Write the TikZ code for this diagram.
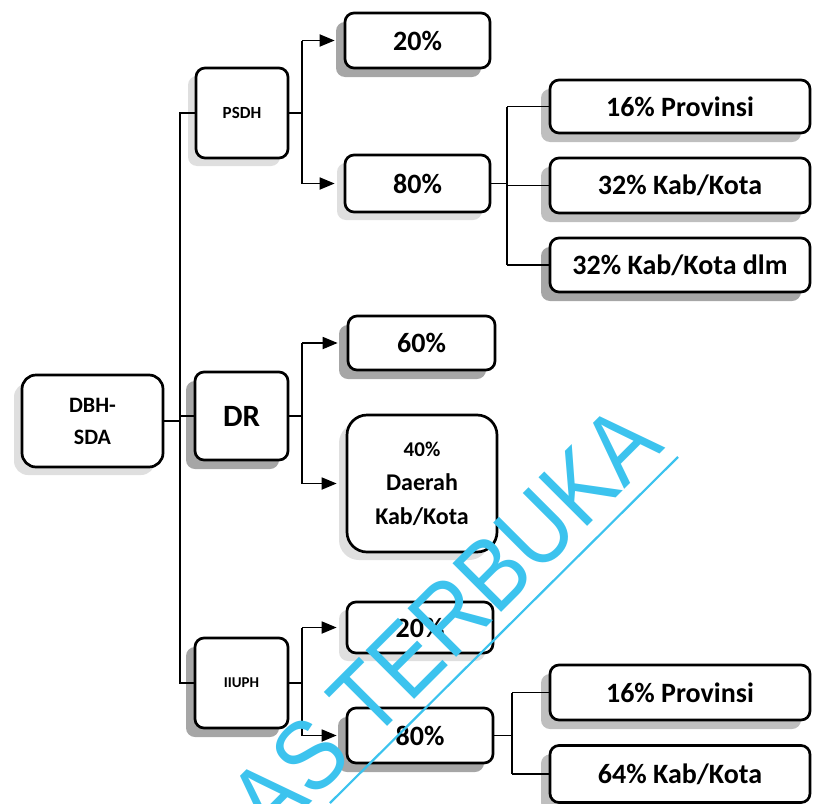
\documentclass[tikz,border=0pt]{standalone}
\usepackage{fontspec}
\usepackage{graphicx}
\setmainfont{Carlito}
\newfontfamily\wmfont{Liberation Sans}
\usetikzlibrary{arrows.meta,shadows}
\definecolor{wmblue}{HTML}{3CC3EE}
\tikzset{
  box/.style={draw=black, line width=2.7pt, fill=white, rounded corners=9pt,
    inner sep=0pt, align=center, text=black,
    font=\bfseries\fontsize{28}{34}\selectfont},
  darksh/.style={general shadow={shadow xshift=-9pt, shadow yshift=-9pt, fill=gray!70}},
  midsh/.style={general shadow={shadow xshift=-9pt, shadow yshift=-9pt, fill=gray!50}},
  lightsh/.style={general shadow={shadow xshift=-8pt, shadow yshift=-8pt, fill=gray!25}},
  link/.style={draw=black, line width=1.8pt},
  arrowlink/.style={link, -{Triangle[length=15pt,width=12pt]}, shorten >=9pt},
}
\begin{document}
\begin{tikzpicture}[x=1pt, y=-1pt]
\useasboundingbox (0,0) rectangle (813,803);

% root and first level
\node[box, lightsh, rounded corners=14pt, minimum width=141pt, minimum height=92pt,
  font=\bfseries\fontsize{22}{32}\selectfont] (dbh) at (92.5,421) {DBH-\\SDA};
\node[box, lightsh, minimum width=92pt, minimum height=90pt,
  font=\bfseries\fontsize{17}{20}\selectfont] (psdh) at (242,113) {PSDH};
\node[box, darksh, minimum width=93pt, minimum height=88pt,
  font=\bfseries\fontsize{31}{34}\selectfont] (dr) at (241.5,416) {DR};
\node[box, darksh, minimum width=93pt, minimum height=90pt,
  font=\bfseries\fontsize{15}{18}\selectfont] (iiuph) at (241.5,683) {IIUPH};

% second level
\node[box, darksh, minimum width=145pt, minimum height=55pt] (p20) at (417.5,40.5) {20\%};
\node[box, lightsh, minimum width=145pt, minimum height=57pt] (p80) at (417.5,183.5) {80\%};
\node[box, darksh, minimum width=147pt, minimum height=54pt] (d60) at (421.5,343) {60\%};
\node[box, lightsh, rounded corners=20pt, minimum width=150pt, minimum height=137pt,
  font=\bfseries\fontsize{24}{34}\selectfont] (d40) at (422,483.5)
  {{\fontsize{21}{34}\selectfont 40\%}\\Daerah\\Kab/Kota};
\node[box, lightsh, minimum width=146pt, minimum height=51pt] (i20) at (420,627.5) {20\%};
\node[box, darksh, minimum width=146pt, minimum height=55pt] (i80) at (420,735.5) {80\%};

% third level
\node[box, midsh, minimum width=260pt, minimum height=53pt] (pprov) at (680,106.5) {16\% Provinsi};
\node[box, midsh, minimum width=260pt, minimum height=55pt] (pkab) at (680,185.5) {32\% Kab/Kota};
\node[box, darksh, minimum width=260pt, minimum height=54pt] (pdlm) at (680,265) {32\% Kab/Kota dlm};
\node[box, midsh, minimum width=260pt, minimum height=55pt] (iprov) at (680,692.5) {16\% Provinsi};
\node[box, midsh, minimum width=260pt, minimum height=57pt] (ikab) at (680,774) {64\% Kab/Kota};

% branch columns
\coordinate (tr) at (180,0);
\coordinate (b1) at (302,0);
\coordinate (b2) at (507,0);
\coordinate (b3) at (302,0);
\coordinate (b4) at (302,0);
\coordinate (b5) at (512,0);

% trunk
\draw[link] (dbh.east) -- (dbh.east -| tr);
\draw[link] (psdh.west) -- (psdh.west -| tr) -- (iiuph.west -| tr) -- (iiuph.west);
\draw[link] (dr.west) -- (dr.west -| tr);

% PSDH split
\draw[link] (psdh.east) -- (psdh.east -| b1);
\draw[link] (p20.west -| b1) -- (p80.west -| b1);
\draw[arrowlink] (p20.west -| b1) -- (p20.west);
\draw[arrowlink] (p80.west -| b1) -- (p80.west);

\draw[link] (p80.east) -- (p80.east -| b2);
\draw[link] (pprov.west -| b2) -- (pdlm.west -| b2);
\draw[link] (pprov.west -| b2) -- (pprov.west);
\draw[link] (pkab.west -| b2) -- (pkab.west);
\draw[link] (pdlm.west -| b2) -- (pdlm.west);

% DR split
\draw[link] (dr.east) -- (dr.east -| b3);
\draw[link] (d60.west -| b3) -- (d40.west -| b3);
\draw[arrowlink] (d60.west -| b3) -- (d60.west);
\draw[arrowlink] (d40.west -| b3) -- (d40.west);

% IIUPH split
\draw[link] (iiuph.east) -- (iiuph.east -| b4);
\draw[link] (i20.west -| b4) -- (i80.west -| b4);
\draw[arrowlink] (i20.west -| b4) -- (i20.west);
\draw[arrowlink] (i80.west -| b4) -- (i80.west);

\draw[link] (i80.east) -- (i80.east -| b5);
\draw[link] (iprov.west -| b5) -- (ikab.west -| b5);
\draw[link] (iprov.west -| b5) -- (iprov.west);
\draw[link] (ikab.west -| b5) -- (ikab.west);

% watermark
\begin{scope}
  \clip (0,0) rectangle (813,803);
  \node[rotate=45, anchor=base east, inner sep=0pt, text=wmblue,
    font=\wmfont\fontsize{100}{100}\selectfont] (wm) at (666,448)
    {\scalebox{0.88}[1]{AS TERBUKA}};
  \coordinate (wmA) at (330,803);
  \coordinate (wmB) at (678,457);
  \draw[wmblue, line width=2.2pt] (wmA) -- (wmB);
\end{scope}
\end{tikzpicture}
\end{document}
